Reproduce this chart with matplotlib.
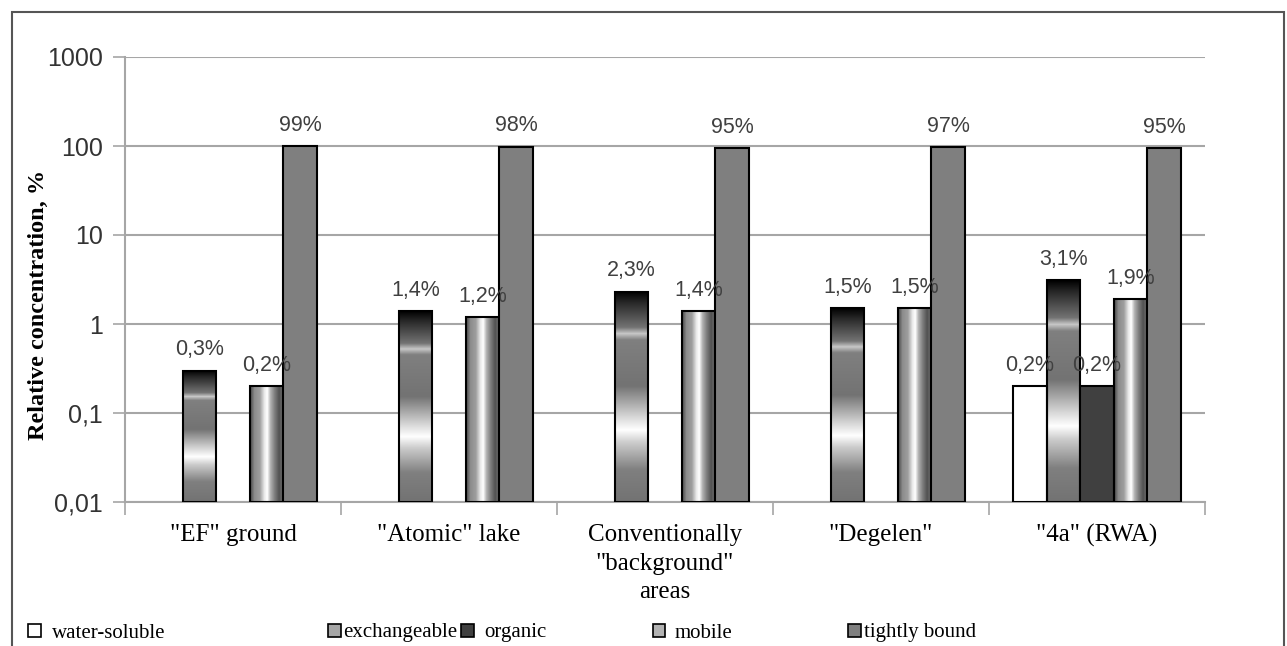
import numpy as np
import matplotlib
matplotlib.use("Agg")
import matplotlib.pyplot as plt
from matplotlib.colors import LinearSegmentedColormap
from matplotlib.patches import Patch, Rectangle
from matplotlib.transforms import blended_transform_factory

# ----- DATA -----
sites = ['"EF" ground', '"Atomic" lake', 'Conventionally\n"background"\nareas',
         '"Degelen"', '"4a" (RWA)']
fractions = ["water-soluble", "exchangeable", "organic", "mobile", "tightly bound"]
water_soluble = [np.nan, np.nan, np.nan, np.nan, 0.2]
exchangeable = [0.3, 1.4, 2.3, 1.5, 3.1]
organic = [np.nan, np.nan, np.nan, np.nan, 0.2]
mobile = [0.2, 1.2, 1.4, 1.5, 1.9]
tightly_bound = [99, 98, 95, 97, 95]
yticks = [0.01, 0.1, 1, 10, 100, 1000]
ytick_labels = ["0,01", "0,1", "1", "10", "100", "1000"]

series = [water_soluble, exchangeable, organic, mobile, tightly_bound]

# ----- STYLE -----
serif = "Liberation Serif"
sans = "Liberation Sans"
txt_col = "#404040"
grid_col = "#a6a6a6"

# vertical "chrome" gradient (bottom -> top) for exchangeable
exch_cmap = LinearSegmentedColormap.from_list("exch", [
    (0.00, (0.45,) * 3), (0.15, (0.50,) * 3), (0.28, (0.80,) * 3),
    (0.34, (1.00,) * 3), (0.40, (0.85,) * 3), (0.55, (0.45,) * 3),
    (0.77, (0.50,) * 3), (0.80, (0.78,) * 3), (0.83, (0.45,) * 3),
    (0.95, (0.15,) * 3), (1.00, (0.00,) * 3)])
# horizontal "cylinder" gradient (left -> right) for mobile
mob_cmap = LinearSegmentedColormap.from_list("mob", [
    (0.00, (0.30,) * 3), (0.12, (0.55,) * 3), (0.28, (0.62,) * 3),
    (0.42, (0.92,) * 3), (0.50, (1.00,) * 3), (0.60, (0.70,) * 3),
    (0.72, (0.50,) * 3), (0.86, (0.32,) * 3), (1.00, (0.50,) * 3)])

fig = plt.figure(figsize=(12.87, 6.46), dpi=100)
ax = fig.add_axes([125 / 1287, 1 - 502 / 646, 1080 / 1287, 445 / 646])

ax.set_yscale("log")
ax.set_ylim(0.01, 1000)
ax.set_xlim(-0.5, len(sites) - 0.5)

x = np.arange(len(sites))
w = 0.155
offsets = (np.arange(len(series)) - 2) * w
base = 0.01
trans = blended_transform_factory(ax.transData, ax.transAxes)

face = ["white", None, "#404040", None, "#7f7f7f"]
for k, vals in enumerate(series):
    for i, v in enumerate(vals):
        if np.isnan(v):
            continue
        xc = x[i] + offsets[k]
        if face[k] is None:
            bar = ax.bar(xc, v - base, bottom=base, width=w, facecolor="none",
                         edgecolor="black", linewidth=1.5, zorder=3)[0]
            top = ax.transLimits.transform(ax.transScale.transform((0, v)))[1]
            if k == 1:
                grad = np.linspace(0, 1, 256).reshape(-1, 1)
                im = ax.imshow(grad, cmap=exch_cmap, origin="lower", aspect="auto",
                               extent=[xc - w / 2, xc + w / 2, 0, top],
                               transform=trans, zorder=2, interpolation="bilinear")
            else:
                grad = np.linspace(0, 1, 256).reshape(1, -1)
                im = ax.imshow(grad, cmap=mob_cmap, origin="lower", aspect="auto",
                               extent=[xc - w / 2, xc + w / 2, 0, top],
                               transform=trans, zorder=2, interpolation="bilinear")
            im.set_clip_path(bar)
        else:
            ax.bar(xc, v - base, bottom=base, width=w, color=face[k],
                   edgecolor="black", linewidth=1.5, zorder=3)
        lab = f"{v:g}".replace(".", ",") + "%"
        ax.annotate(lab, (xc, v), xytext=(0, 15), textcoords="offset points",
                    ha="center", va="center", fontsize=15.5, family=sans,
                    color=txt_col, zorder=5)

# restore limits (imshow may change them)
ax.set_yscale("log")
ax.set_ylim(0.01, 1000)
ax.set_xlim(-0.5, len(sites) - 0.5)

# ----- AXES -----
ax.set_yticks(yticks)
ax.set_yticklabels(ytick_labels, family=sans, fontsize=18, color="#333333")
ax.minorticks_off()
ax.yaxis.grid(True, color=grid_col, linewidth=1.5, zorder=0)
ax.set_axisbelow(True)
ax.tick_params(axis="y", length=9, width=1.2, color=grid_col, pad=7)

ax.set_xticks(x)
ax.set_xticklabels(sites, family=serif, fontsize=18, color="black", linespacing=1.38,
                   va="top")
ax.tick_params(axis="x", length=0, pad=16)
ax.set_xticks(np.arange(len(sites) + 1) - 0.5, minor=True)
ax.tick_params(axis="x", which="minor", length=9, width=1.2, color=grid_col)

for s in ["top", "right"]:
    ax.spines[s].set_visible(False)
for s in ["left", "bottom"]:
    ax.spines[s].set_color(grid_col)
    ax.spines[s].set_linewidth(1.5)

fig.text(38 / 1287, 1 - 305 / 646, "Relative concentration, %", rotation=90,
         ha="center", va="center", family=serif, fontweight="bold", fontsize=17.5)

# ----- LEGEND -----
leg_faces = ["white", "#a6a6a6", "#404040", "#b3b3b3", "#7f7f7f"]
leg_x = [28, 328, 461, 653, 848]
leg_pad = [0.55, 0.15, 0.5, 0.45, 0.15]
for name, fc, lx, pad in zip(fractions, leg_faces, leg_x, leg_pad):
    fig.legend(handles=[Patch(facecolor=fc, edgecolor="black", linewidth=1.2)],
               labels=[name], loc="center left",
               bbox_to_anchor=(lx / 1287, 1 - 633 / 646), frameon=False,
               prop={"family": serif, "size": 15}, handlelength=0.6,
               handleheight=0.6, handletextpad=pad, borderaxespad=0, borderpad=0)

# outer frame
fig.add_artist(Rectangle((12 / 1287, -0.2), 1272 / 1287, 1.2 - 12 / 646,
                         transform=fig.transFigure, fill=False,
                         edgecolor="#555555", linewidth=1.5))

fig.savefig("out.png", dpi=100)
